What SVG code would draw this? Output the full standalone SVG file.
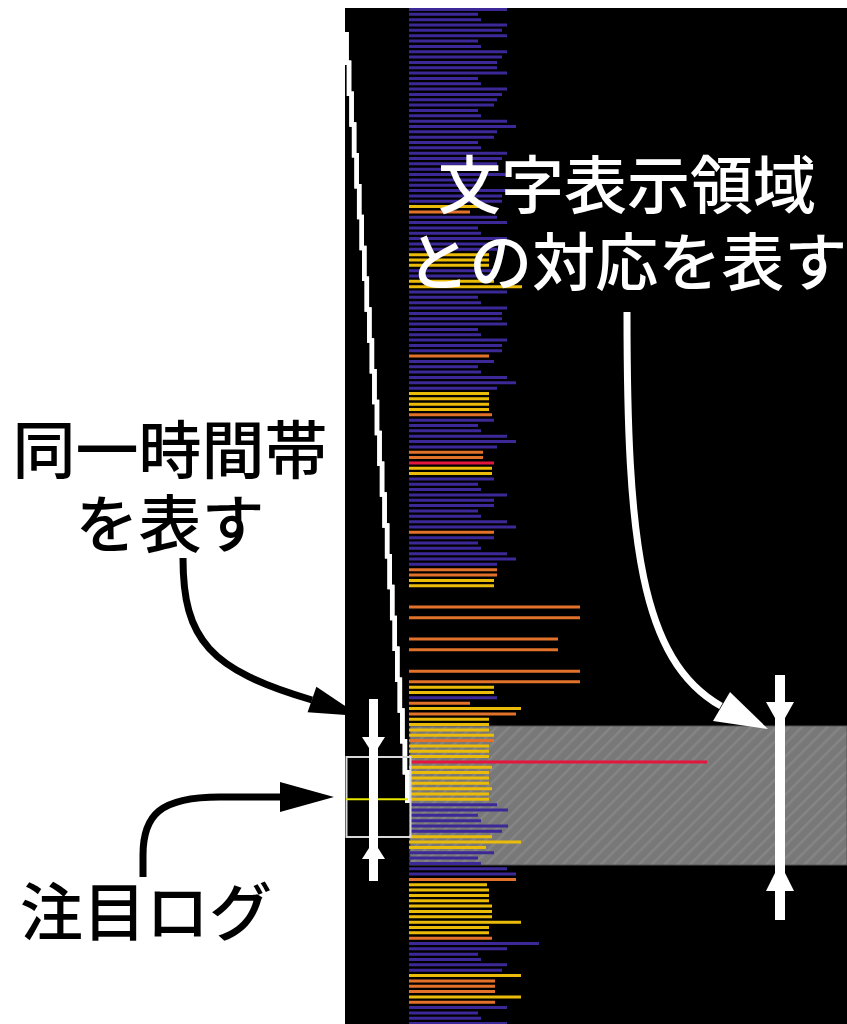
<svg xmlns="http://www.w3.org/2000/svg" width="847" height="1024" viewBox="0 0 847 1024">
<style>
.lbl{font-family:"Noto Sans CJK JP","Noto Sans CJK SC",sans-serif;font-size:63px;font-weight:500;text-anchor:middle}
.dark{fill:#000}
.light{fill:#fff}
.bar{fill:none;stroke-width:3}
.p{stroke:#3d2898}
.o{stroke:#e2722a}
.y{stroke:#ebbb0a}
.r{stroke:#e4163e}
.blk{fill:none;stroke:#000;stroke-width:7}
.wht{fill:none;stroke:#fff;stroke-width:7}
.wf{fill:#fff}
.bf{fill:#000}
</style>
<defs>
<pattern id="hatch" width="9" height="9" patternUnits="userSpaceOnUse" patternTransform="rotate(45)">
<rect width="9" height="9" fill="#787878"/>
<line x1="1" y1="0" x2="1" y2="9" stroke="#858585" stroke-width="3"/>
</pattern>
</defs>
<rect width="847" height="1024" fill="#fff"/>
<g id="chart">
<rect x="345" y="8" width="502" height="1016" fill="#000"/>
<rect id="text-region" x="410" y="726" width="437" height="139" fill="url(#hatch)" stroke="#555" stroke-width="1"/>
<path class="bar p" d="M409 9.5H507M409 14.34H478M409 19.68H481M409 25.02H507M409 30.36H502M409 35.7H507M409 41.04H478M409 46.38H481M409 51.72H507M409 57.06H502M409 62.4H497M409 67.74H497M409 73.08H507M409 78.42H478M409 83.76H481M409 89.1H507M409 94.44H502M409 99.78H497M409 105.12H494M409 110.46H478M409 115.8H481M409 121.14H507M409 126.48H516M409 131.82H497M409 137.16H494M409 142.5H478M409 147.84H481M409 153.18H507M409 158.52H502M409 163.86H497M409 169.2H497M409 174.54H507M409 179.88H478M409 185.22H481M409 190.56H507M409 195.9H502M409 201.24H502M409 217.26H497M409 222.6H507M409 227.94H478M409 233.28H481M409 238.62H507M409 243.96H502M409 249.3H497M409 270.66H497M409 276H494M409 292.02H507M409 297.36H478M409 302.7H481M409 308.04H507M409 313.38H502M409 318.72H502M409 324.06H507M409 329.4H478M409 334.74H481M409 340.08H507M409 345.42H502M409 350.76H502M409 361.44H494M409 366.78H478M409 372.12H481M409 377.46H507M409 382.8H516M409 388.14H497M409 420.18H494M409 425.52H478M409 430.86H481M409 436.2H507M409 441.54H516M409 446.88H497M409 478.92H494M409 484.26H478M409 489.6H481M409 494.94H507M409 500.28H494M409 505.62H494M409 510.96H478M409 516.3H481M409 521.64H507M409 526.98H516M409 537.66H494M409 543H478M409 548.34H481M409 553.68H507M409 559.02H516M409 564.36H497M409 697.86H497M409 804.66H497M409 810H508M409 815.34H478M409 820.68H481M409 826.02H508M409 831.36H502M409 852.72H494M409 858.06H478M409 863.4H481M409 868.74H507M409 874.08H516M409 943.5H539M409 948.84H507M409 954.18H478M409 959.52H481M409 964.86H507M409 970.2H502M409 1007.58H507M409 1012.92H478M409 1018.26H481M409 1023.6H507"/>
<path class="bar o" d="M409 211.92H470M409 356.1H489M409 414.84H492M409 452.22H483M409 457.56H483M409 532.32H494M409 569.7H497M409 575.04H497M409 607.08H580M409 617.76H580M409 639.12H558M409 649.8H558M409 671.16H580M409 681.84H580M409 703.2H470M409 713.88H516M409 740.58H494M409 879.42H516M409 938.16H492M409 980.88H495M409 986.22H495M409 991.56H495M409 1002.24H495"/>
<path class="bar y" d="M409 206.58H483M409 254.64H489M409 259.98H489M409 265.32H489M409 281.34H494M409 286.68H522M409 393.48H489M409 398.82H489M409 404.16H489M409 409.5H489M409 468.24H492M409 473.58H492M409 580.38H494M409 585.72H494M409 687.18H494M409 692.52H494M409 708.54H521M409 719.22H489M409 724.56H489M409 729.9H489M409 735.24H494M409 745.92H489M409 751.26H489M409 756.6H489M409 767.28H492M409 772.62H489M409 777.96H489M409 783.3H489M409 788.64H492M409 793.98H489M409 799.32H489M409 836.7H492M409 842.04H521M409 847.38H486M409 884.76H487M409 890.1H489M409 895.44H489M409 900.78H489M409 906.12H492M409 911.46H492M409 916.8H492M409 922.14H521M409 927.48H489M409 932.82H489M409 975.54H521M409 996.9H521"/>
<path class="bar r" d="M409 462.9H494M409 761.94H707"/>
</g>
<g id="connectors">
<g id="overview-line">
<path id="zigzag" d="M346.5 32v30.84h2.54v30.84h2.54v30.84h2.54v30.84h2.54v30.84h2.54v30.84h2.54v30.84h2.54v30.84h2.54v30.84h2.54v30.84h2.54v30.84h2.54v30.84h2.54v30.84h2.54v30.84h2.54v30.84h2.54v30.84h2.54v30.84h2.54v30.84h2.54v30.84h2.54v30.84h2.54v30.84h2.54v30.84h2.54v30.84h2.54v30.84h2.54v30.84" fill="none" stroke="#fff" stroke-width="4.5"/>
<use href="#zigzag" style="stroke:#3a3a3a;stroke-width:1.2"/>
</g>
<rect id="focus-box" x="346.5" y="757" width="64" height="80" fill="none" stroke="#d8d8d8" stroke-width="2"/>
<line x1="346" y1="799.3" x2="408" y2="799.3" stroke="#e8e800" stroke-width="2"/>
<g id="span-left">
<rect class="wf" x="369" y="699" width="9" height="182"/>
<polygon class="wf" points="362,737 385,737 378,748 369,748"/>
<polygon class="wf" points="362,859 385,859 378,848 369,848"/>
</g>
<g id="span-right">
<rect class="wf" x="775" y="675" width="10" height="245"/>
<polygon class="wf" points="766,702 794,702 785,718 775,718"/>
<polygon class="wf" points="766,891 794,891 785,873 775,873"/>
</g>
<path class="wht" d="M627 312C627 540 640 660 721 706"/>
<polygon class="wf" points="768,729 713,721 730,692"/>
<path class="blk" d="M183 558C183 640 210 670 312 700"/>
<polygon class="bf" points="360,716 307.6,712.3 316.4,686.7"/>
<path class="blk" d="M143 877V855C143 815 160 797 220 797H282"/>
<polygon class="bf" points="280,782 280,812 334,797"/>
</g>
<g id="label-text-region">
<text class="lbl light" x="627" y="208">文字表示領域</text>
<text class="lbl light" x="627" y="285">との対応を表す</text>
</g>
<g id="label-same-time">
<text class="lbl dark" x="170" y="473">同一時間帯</text>
<text class="lbl dark" x="170" y="547">を表す</text>
</g>
<g id="label-focus-log">
<text class="lbl dark" x="146" y="935">注目ログ</text>
</g>
</svg>
